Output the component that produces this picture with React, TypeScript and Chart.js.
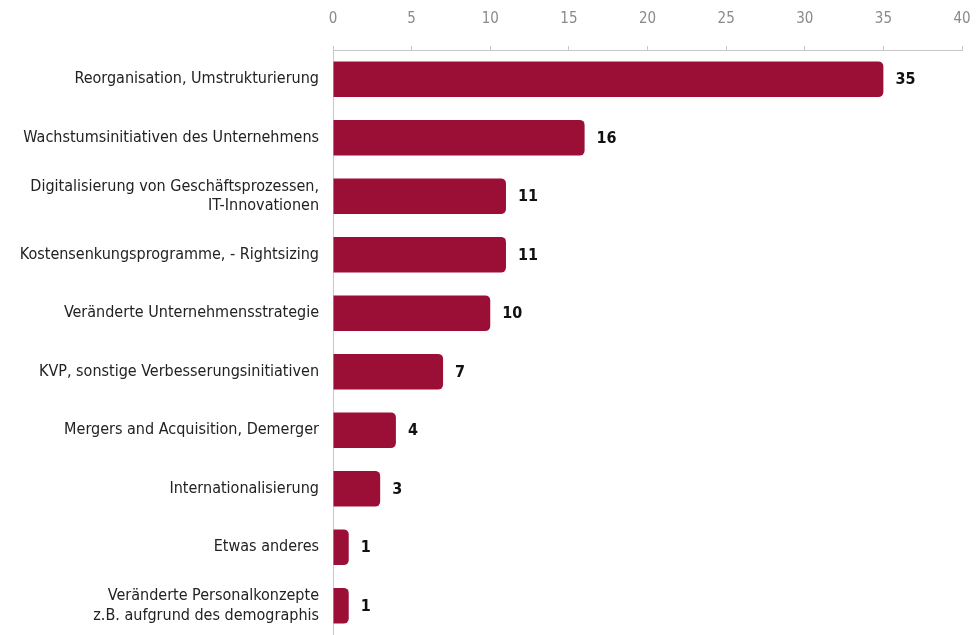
import React, { useEffect, useRef } from "react";
import { Chart, registerables } from "chart.js";

Chart.register(...registerables);

const categories: (string | string[])[] = [
  "Reorganisation, Umstrukturierung",
  "Wachstumsinitiativen des Unternehmens",
  ["Digitalisierung von Geschäftsprozessen,", "IT-Innovationen"],
  "Kostensenkungsprogramme, - Rightsizing",
  "Veränderte Unternehmensstrategie",
  "KVP, sonstige Verbesserungsinitiativen",
  "Mergers and Acquisition, Demerger",
  "Internationalisierung",
  "Etwas anderes",
  ["Veränderte Personalkonzepte", "z.B. aufgrund des demographis"],
];
const values: number[] = [35, 16, 11, 11, 10, 7, 4, 3, 1, 1];
const xTicks = { min: 0, max: 40, step: 5 };

const FONT = "'Liberation Sans Narrow', 'DejaVu Sans Condensed', 'Liberation Sans', Arial, sans-serif";
const BAR = "#9b0f37";

const valueLabels = {
  id: "valueLabels",
  afterDatasetsDraw(chart: any) {
    const ctx = chart.ctx;
    const meta = chart.getDatasetMeta(0);
    ctx.save();
    ctx.font = `bold 16px ${FONT}`;
    ctx.fillStyle = "#111";
    ctx.textAlign = "left";
    ctx.textBaseline = "middle";
    meta.data.forEach((el: any, i: number) => {
      ctx.fillText(String(chart.data.datasets[0].data[i]), el.x + 12, el.y + 1);
    });
    ctx.restore();
  },
};

export default function App() {
  const ref = useRef<HTMLCanvasElement>(null);
  useEffect(() => {
    if (!ref.current) return;
    const chart = new Chart(ref.current, {
      type: "bar",
      data: {
        labels: categories,
        datasets: [
          {
            data: values,
            backgroundColor: BAR,
            borderRadius: 5,
            borderSkipped: "start",
            barPercentage: 0.61,
            categoryPercentage: 1,
          },
        ],
      },
      options: {
        indexAxis: "y",
        animation: false,
        responsive: false,
        layout: { padding: { top: 0, right: 18, bottom: 0, left: 0 } },
        plugins: { legend: { display: false }, tooltip: { enabled: false } },
        scales: {
          x: {
            position: "top",
            min: xTicks.min,
            max: xTicks.max,
            ticks: {
              stepSize: xTicks.step,
              color: "#8a8a8a",
              font: { family: FONT, size: 15 },
              padding: 18,
            },
            grid: { drawOnChartArea: false, color: "#c8c8c8", tickLength: 4 },
            border: { color: "#c8c8c8", width: 1 },
            afterFit: (s: any) => {
              s.height = 50;
              s.paddingLeft = 0;
              s.paddingRight = 0;
            },
          },
          y: {
            ticks: {
              color: "#222",
              font: { family: FONT, size: 16 },
              padding: 14,
            },
            grid: { display: false, drawTicks: false },
            border: { color: "#c8c8c8", width: 1 },
            afterFit: (s: any) => {
              s.width = 333;
              s.paddingTop = 0;
              s.paddingBottom = 0;
            },
          },
        },
      },
      plugins: [valueLabels],
    });
    return () => chart.destroy();
  }, []);
  return (
    <div style={{ position: "absolute", left: 0, top: 0, width: 980, height: 635, overflow: "hidden", background: "#fff" }}>
      <canvas ref={ref} width={980} height={635} />
    </div>
  );
}
